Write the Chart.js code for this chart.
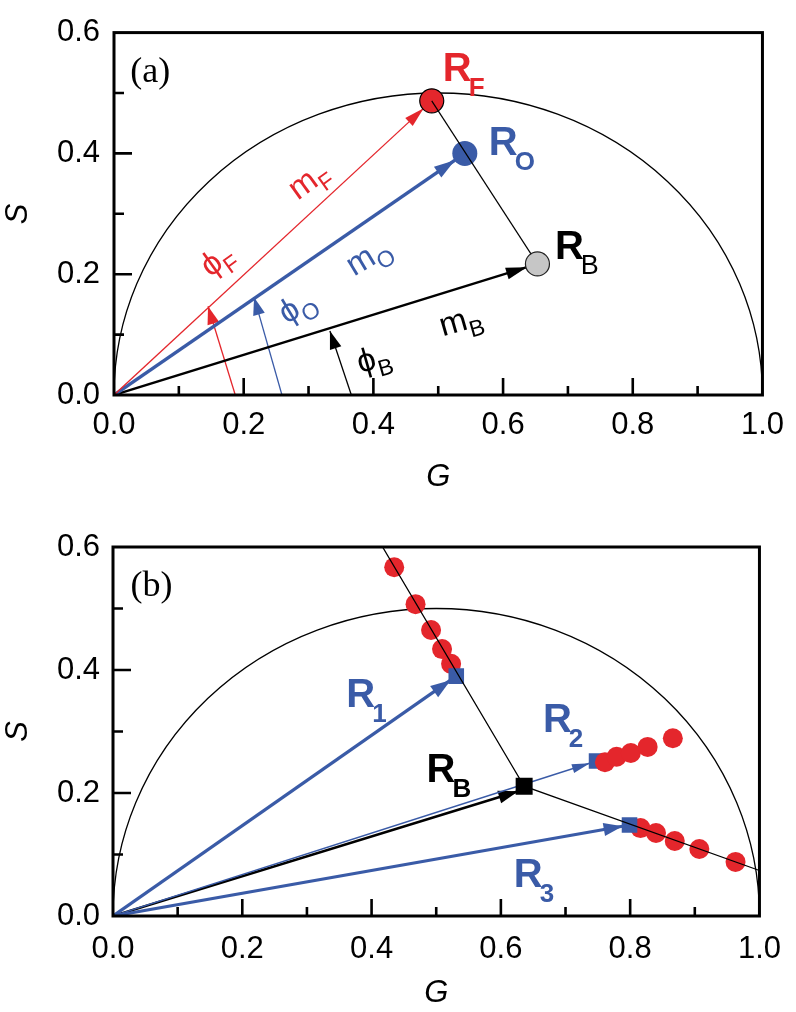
<!DOCTYPE html>
<html>
<head>
<meta charset="utf-8">
<script src="https://cdn.jsdelivr.net/npm/chart.js@4.4.1/dist/chart.umd.min.js"></script>
<style>
  html, body { margin: 0; padding: 0; background: #fff; }
  canvas { position: absolute; left: 0; }
  #panelA { top: 0; }
  #panelB { top: 500px; }
</style>
</head>
<body>
<canvas id="panelA" width="796" height="500"></canvas>
<canvas id="panelB" width="796" height="512"></canvas>
<script>
// Phasor plots (G, S) — (a) F/O/B phasors, (b) mixing lines through R_B

const RED = "#e4262c"
const BLUE = "#3a5ba7"
const GREY = "#c6c6c6"
const SANS = "'Liberation Sans', Arial, sans-serif"

// axes
const X_TICKS = [0, 0.2, 0.4, 0.6, 0.8, 1.0]
const Y_TICKS = [0, 0.2, 0.4, 0.6]
const X_MINOR = [0.1, 0.3, 0.5, 0.7, 0.9]
const Y_MINOR = [0.1, 0.3, 0.5]

// universal semicircle, centre (0.5, 0), radius 0.5
const CIRCLE_G = 0.5
const CIRCLE_R = 0.5

// panel (a)
const RF = [0.490, 0.487]
const RO = [0.541, 0.400]
const RB_A = [0.653, 0.217]
// phase-angle arrows: foot on the G axis, tip on the vector (F, O, B)
const PHI_FOOT_G = [0.187, 0.259, 0.366]
const PHI_TIP_G = [0.145, 0.216, 0.333]
const PHI_TIP_S = [0.147, 0.162, 0.106]

// panel (b)
const RB_B = [0.636, 0.211]
const RB_B_TIP = [0.627, 0.203]   // black arrow stops at the square's lower-left
const R1 = [0.531, 0.390]
const R2 = [0.748, 0.252]
const R3 = [0.799, 0.148]
const MIX_G = [0.417, 0.636, 1.0]
const MIX_S = [0.600, 0.211, 0.074]
const DOTS1_G = [0.435, 0.468, 0.492, 0.509, 0.523]
const DOTS1_S = [0.567, 0.507, 0.465, 0.434, 0.410]
const DOTS2_G = [0.761, 0.779, 0.801, 0.827, 0.866]
const DOTS2_S = [0.250, 0.259, 0.265, 0.275, 0.289]
const DOTS3_G = [0.816, 0.840, 0.869, 0.907, 0.963]
const DOTS3_S = [0.143, 0.135, 0.122, 0.109, 0.088]

const pt = (g, s) => ({ x: g, y: s })
const ORIGIN = pt(0, 0)

function vector(from, to, color, width, arrow, order) {
  return {
    data: [from, to], showLine: true, borderColor: color, borderWidth: width,
    pointRadius: 0, arrow, order,
  }
}

function markers(points, color, radius, order, extra = {}) {
  return {
    data: points, showLine: false, pointRadius: radius,
    pointBackgroundColor: color, pointBorderWidth: 0, order, ...extra,
  }
}

// ---- plugins ----
const semicircle = {
  id: "semicircle",
  beforeDatasetsDraw(chart) {
    const { ctx, scales: { x, y } } = chart
    const cx = x.getPixelForValue(CIRCLE_G)
    const cy = y.getPixelForValue(0)
    const rx = x.getPixelForValue(CIRCLE_G + CIRCLE_R) - cx
    const ry = cy - y.getPixelForValue(CIRCLE_R)
    ctx.save()
    ctx.beginPath()
    ctx.ellipse(cx, cy, rx, ry, 0, Math.PI, 2 * Math.PI)
    ctx.lineWidth = 1.3
    ctx.strokeStyle = "#000"
    ctx.stroke()
    ctx.restore()
  },
}

const arrowheads = {
  id: "arrowheads",
  afterDatasetDraw(chart, args) {
    const ds = chart.data.datasets[args.index]
    if (!ds.arrow) return
    const pts = args.meta.data
    const p0 = pts[pts.length - 2], p1 = pts[pts.length - 1]
    const dx = p1.x - p0.x, dy = p1.y - p0.y
    const d = Math.hypot(dx, dy)
    const ux = dx / d, uy = dy / d
    const { len, width, inset } = ds.arrow
    const tx = p1.x - ux * inset, ty = p1.y - uy * inset
    const bx = tx - ux * len, by = ty - uy * len
    const w = width / 2
    const ctx = chart.ctx
    ctx.save()
    ctx.beginPath()
    ctx.moveTo(tx, ty)
    ctx.lineTo(bx - uy * w, by + ux * w)
    ctx.lineTo(bx + uy * w, by - ux * w)
    ctx.closePath()
    ctx.fillStyle = ds.borderColor
    ctx.fill()
    ctx.restore()
  },
}

// box frame + inward ticks on bottom and left
const frame = {
  id: "frame",
  afterDatasetsDraw(chart) {
    const { ctx, chartArea: a, scales: { x, y } } = chart
    ctx.save()
    ctx.strokeStyle = "#000"
    ctx.lineWidth = 3
    ctx.strokeRect(a.left, a.top, a.right - a.left, a.bottom - a.top)
    ctx.lineWidth = 2.6
    ctx.beginPath()
    const xt = (vals, len) => vals.forEach(v => {
      if (v <= 0 || v >= 1) return
      const px = x.getPixelForValue(v)
      ctx.moveTo(px, a.bottom); ctx.lineTo(px, a.bottom - len)
    })
    const yt = (vals, len) => vals.forEach(v => {
      if (v <= 0 || v >= 0.6) return
      const py = y.getPixelForValue(v)
      ctx.moveTo(a.left, py); ctx.lineTo(a.left + len, py)
    })
    xt(X_TICKS, 17); xt(X_MINOR, 9)
    yt(Y_TICKS, 18); yt(Y_MINOR, 10)
    ctx.stroke()
    ctx.restore()
  },
}

const BIG = { font: `bold 40px ${SANS}`, subFont: `bold 26px ${SANS}`, subDx: -3, subDy: 15 }
const SMALL = { font: `33px ${SANS}`, subFont: `23px ${SANS}`, subDx: 0, subDy: 9, center: true }
const PANEL = { font: "36px 'Liberation Serif', 'Times New Roman', serif" }

function textLabels(list) {
  return {
    id: "textLabels",
    afterDraw(chart) {
      const { ctx, scales: { x, y } } = chart
      list.forEach(L => {
        ctx.save()
        ctx.translate(x.getPixelForValue(L.g), y.getPixelForValue(L.s))
        if (L.rot) ctx.rotate(L.rot * Math.PI / 180)
        ctx.fillStyle = L.color || "#000"
        ctx.textBaseline = "alphabetic"
        ctx.textAlign = "left"
        ctx.font = L.font
        const w = ctx.measureText(L.text).width
        let ws = 0
        if (L.sub) { ctx.font = L.subFont; ws = ctx.measureText(L.sub).width }
        const x0 = L.center ? -(w + ws) / 2 : 0
        const y0 = L.center ? 9 : 0
        ctx.font = L.font
        ctx.fillText(L.text, x0, y0)
        if (L.sub) {
          ctx.font = L.subFont
          ctx.fillText(L.sub, x0 + w + L.subDx, y0 + L.subDy)
        }
        ctx.restore()
      })
    },
  }
}

function panel(id, datasets, labels, box) {
  const tickFont = { family: SANS, size: 31 }
  const titleFont = { family: SANS, size: 31, style: "italic" }
  return new Chart(document.getElementById(id), {
    type: "scatter",
    data: { datasets },
    options: {
      responsive: false,
      animation: false,
      events: [],
      layout: { padding: { left: 0, top: box.top, right: box.right, bottom: 0 } },
      plugins: { legend: { display: false }, tooltip: { enabled: false } },
      scales: {
        x: {
          min: 0, max: 1,
          afterBuildTicks: s => { s.ticks = X_TICKS.map(v => ({ value: v })) },
          afterFit: s => { s.height = box.xh },
          grid: { display: false, drawTicks: false },
          border: { display: false },
          ticks: { color: "#000", padding: box.xpad, font: tickFont, maxRotation: 0, autoSkip: false,
                   callback: v => v.toFixed(1) },
          title: { display: true, text: "G", color: "#000", font: titleFont,
                   padding: { top: 0, bottom: box.gpad } },
        },
        y: {
          min: 0, max: 0.6,
          afterBuildTicks: s => { s.ticks = Y_TICKS.map(v => ({ value: v })) },
          afterFit: s => { s.width = box.yw },
          grid: { display: false, drawTicks: false },
          border: { display: false },
          ticks: { color: "#000", padding: box.ypad, font: tickFont, autoSkip: false,
                   callback: v => v.toFixed(1) },
          title: { display: true, text: "S", color: "#000", font: titleFont,
                   padding: { top: 0, bottom: 0 } },
        },
      },
    },
    plugins: [semicircle, arrowheads, frame, textLabels(labels)],
  })
}

// ---- panel (a) ----
const phiColors = [RED, BLUE, "#000"]
const phiArrows = PHI_FOOT_G.map((g, i) =>
  vector(pt(g, 0), pt(PHI_TIP_G[i], PHI_TIP_S[i]), phiColors[i], 1.3, { len: 18, width: 12, inset: 0 }, 3))

panel("panelA", [
  markers([pt(...RB_A)], GREY, 12, 0, { pointBorderColor: "#222", pointBorderWidth: 1.2 }),
  { data: [pt(...RF), pt(...RB_A)], showLine: true, borderColor: "#000", borderWidth: 1.2, pointRadius: 0, order: 1 },
  markers([pt(...RF)], RED, 12, 2, { pointBorderColor: "#000", pointBorderWidth: 1.2 }),
  markers([pt(...RO)], BLUE, 12.5, 2),
  vector(ORIGIN, pt(...RF), RED, 1.3, { len: 20, width: 11, inset: 11 }, 3),
  vector(ORIGIN, pt(...RO), BLUE, 3.5, { len: 21, width: 13, inset: 12 }, 3),
  vector(ORIGIN, pt(...RB_A), "#000", 2.4, { len: 21, width: 12, inset: 11 }, 3),
  ...phiArrows,
], [
  { text: "(a)", g: 0.025, s: 0.518, ...PANEL },
  { text: "R", sub: "F", g: 0.507, s: 0.520, color: RED, ...BIG },
  { text: "R", sub: "O", g: 0.578, s: 0.397, color: BLUE, ...BIG },
  { text: "R", sub: "B", g: 0.680, s: 0.225, ...BIG, subFont: `27px ${SANS}` },
  { text: "m", sub: "F", g: 0.301, s: 0.354, rot: -36, color: RED, ...SMALL },
  { text: "\u03d5", sub: "F", g: 0.160, s: 0.222, rot: -36, color: RED, ...SMALL },
  { text: "m", sub: "O", g: 0.393, s: 0.228, rot: -31, color: BLUE, ...SMALL },
  { text: "\u03d5", sub: "O", g: 0.283, s: 0.145, rot: -31, color: BLUE, ...SMALL },
  { text: "m", sub: "B", g: 0.535, s: 0.121, rot: -16, ...SMALL },
  { text: "\u03d5", sub: "B", g: 0.401, s: 0.058, rot: -16, ...SMALL },
], { top: 22, right: 31, xh: 105, yw: 114, xpad: 12, ypad: 14, gpad: 4 })

// ---- panel (b) ----
const zip = (gs, ss) => gs.map((g, i) => pt(g, ss[i]))

panel("panelB", [
  { data: zip(MIX_G, MIX_S), showLine: true, borderColor: "#000", borderWidth: 1.3, pointRadius: 0, order: 0 },
  markers(zip(DOTS2_G, DOTS2_S), RED, 10, 1),
  markers([pt(...R1), pt(...R2), pt(...R3)], BLUE, 11, 2, { pointStyle: "rect" }),
  markers([pt(...RB_B)], "#000", 12, 2, { pointStyle: "rect" }),
  markers([...zip(DOTS1_G, DOTS1_S), ...zip(DOTS3_G, DOTS3_S)], RED, 10, 3),
  vector(ORIGIN, pt(...R2), BLUE, 1.4, { len: 18, width: 9, inset: 7 }, 4),
  vector(ORIGIN, pt(...RB_B_TIP), "#000", 2.6, { len: 20, width: 13, inset: 0 }, 5),
  vector(ORIGIN, pt(...R1), BLUE, 3.2, { len: 20, width: 14, inset: 7 }, 4),
  vector(ORIGIN, pt(...R3), BLUE, 3.2, { len: 19, width: 13, inset: 7 }, 4),
], [
  { text: "(b)", g: 0.027, s: 0.520, ...PANEL },
  { text: "R", sub: "1", g: 0.361, s: 0.340, color: BLUE, ...BIG },
  { text: "R", sub: "2", g: 0.665, s: 0.299, color: BLUE, ...BIG },
  { text: "R", sub: "B", g: 0.485, s: 0.218, ...BIG },
  { text: "R", sub: "3", g: 0.620, s: 0.047, color: BLUE, ...BIG },
], { top: 47, right: 35, xh: 96, yw: 113, xpad: 15, ypad: 13, gpad: 0 })
</script>
</body>
</html>
